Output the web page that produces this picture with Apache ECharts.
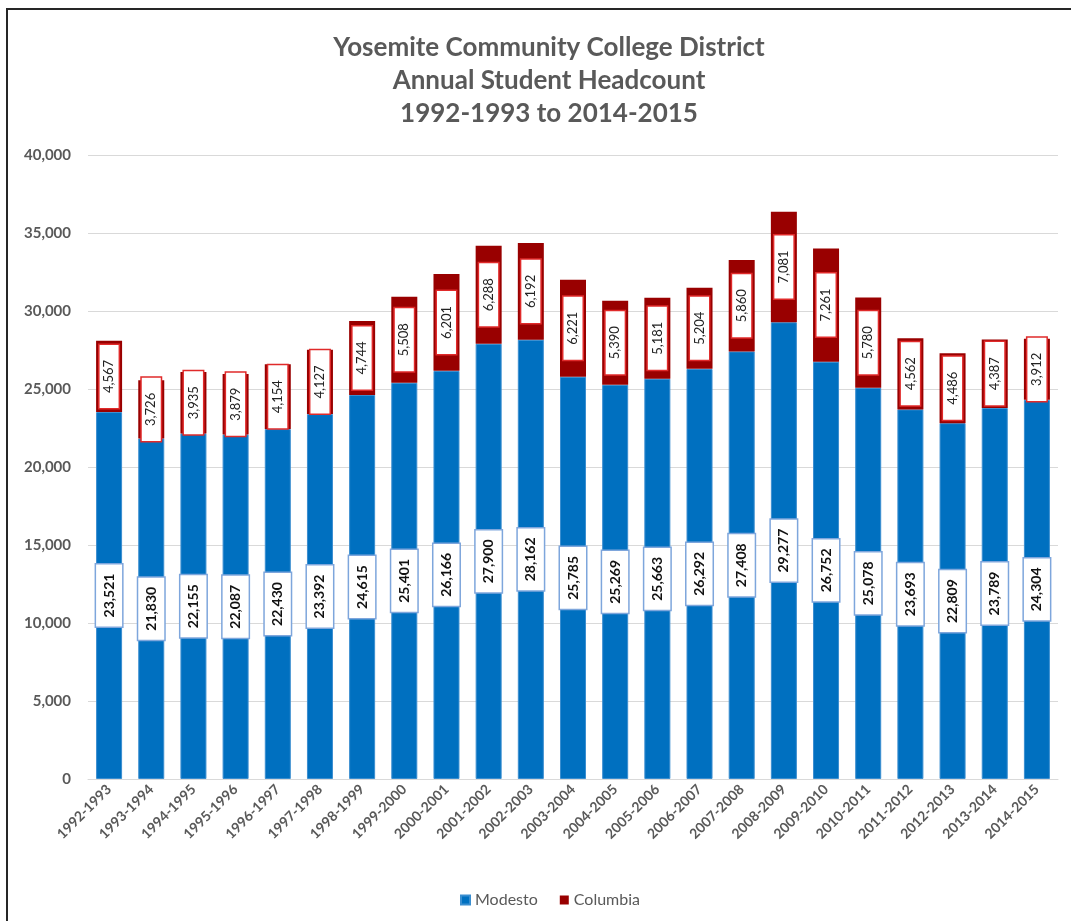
<!DOCTYPE html>
<html>
<head>
<meta charset="utf-8">
<script src="https://cdn.jsdelivr.net/npm/echarts@6/dist/echarts.min.js"></script>
<style>
  html, body { margin: 0; padding: 0; background: #fff; }
  .frame {
    position: absolute; left: 6px; top: 8px;
    width: 1080px; height: 930px;
    border: 2px solid #262626; box-sizing: border-box;
  }
  #chart { position: absolute; left: 0; top: 0; width: 1071px; height: 921px; }
</style>
</head>
<body>
<div class="frame"></div>
<div id="chart"></div>
<script>
const years = [
  "1992-1993", "1993-1994", "1994-1995", "1995-1996", "1996-1997", "1997-1998",
  "1998-1999", "1999-2000", "2000-2001", "2001-2002", "2002-2003", "2003-2004",
  "2004-2005", "2005-2006", "2006-2007", "2007-2008", "2008-2009", "2009-2010",
  "2010-2011", "2011-2012", "2012-2013", "2013-2014", "2014-2015",
];
const modesto = [
  23521, 21830, 22155, 22087, 22430, 23392, 24615, 25401, 26166, 27900, 28162, 25785,
  25269, 25663, 26292, 27408, 29277, 26752, 25078, 23693, 22809, 23789, 24304,
];
const columbia = [
  4567, 3726, 3935, 3879, 4154, 4127, 4744, 5508, 6201, 6288, 6192, 6221,
  5390, 5181, 5204, 5860, 7081, 7261, 5780, 4562, 4486, 4387, 3912,
];
const yTicks = { min: 0, max: 40000, step: 5000 };

const font = "Lato, 'Open Sans', sans-serif";
const fmt = (v) => Number(v).toLocaleString("en-US");

const chart = echarts.init(document.getElementById("chart"));
chart.setOption({
  animation: false,
  title: {
    text: "Yosemite Community College District\nAnnual Student Headcount\n1992-1993 to 2014-2015",
    left: 544,
    textAlign: "center",
    top: 26,
    textStyle: {
      fontFamily: font,
      fontSize: 26,
      fontWeight: "bold",
      color: "#595959",
      lineHeight: 33,
    },
  },
  grid: { left: 88, right: 13, top: 155, bottom: 142 },
  legend: {
    top: 887,
    left: 455,
    itemWidth: 9,
    itemHeight: 9,
    itemGap: 22,
    textStyle: { fontFamily: font, fontSize: 16, color: "#595959" },
    data: [
      { name: "Modesto", icon: "rect" },
      { name: "Columbia", icon: "rect" },
    ],
  },
  xAxis: {
    type: "category",
    data: years,
    axisTick: { show: false },
    axisLine: { lineStyle: { color: "#D9D9D9" } },
    axisLabel: {
      interval: 0,
      rotate: 45,
      margin: 8,
      fontFamily: font,
      fontSize: 14,
      fontWeight: "bold",
      color: "#595959",
    },
  },
  yAxis: {
    type: "value",
    min: yTicks.min,
    max: yTicks.max,
    interval: yTicks.step,
    axisLine: { show: false },
    axisTick: { show: false },
    splitLine: { lineStyle: { color: "#D9D9D9", width: 1 } },
    axisLabel: {
      formatter: fmt,
      margin: 17,
      fontFamily: font,
      fontSize: 15,
      fontWeight: "bold",
      color: "#595959",
    },
  },
  series: [
    {
      name: "Modesto",
      type: "bar",
      stack: "total",
      data: modesto,
      barWidth: 26,
      itemStyle: { color: "#0070C0", borderColor: "#3A8ED0", borderWidth: 1 },
      label: {
        show: true,
        position: "inside",
        rotate: 90,
        formatter: (p) => fmt(p.value),
        fontFamily: font,
        fontSize: 14,
        fontWeight: "bold",
        color: "#111",
        backgroundColor: "#fff",
        borderColor: "#7EA6DC",
        borderWidth: 1.5,
        padding: [6, 9],
      },
    },
    {
      name: "Columbia",
      type: "bar",
      stack: "total",
      data: columbia,
      barWidth: 26,
      itemStyle: { color: "#990000" },
      label: {
        show: true,
        position: "inside",
        rotate: 90,
        formatter: (p) => fmt(p.value),
        fontFamily: font,
        fontSize: 13,
        color: "#222",
        backgroundColor: "#fff",
        borderColor: "#E02A2A",
        borderWidth: 1.5,
        padding: [3, 15],
      },
    },
  ],
});
</script>
</body>
</html>
